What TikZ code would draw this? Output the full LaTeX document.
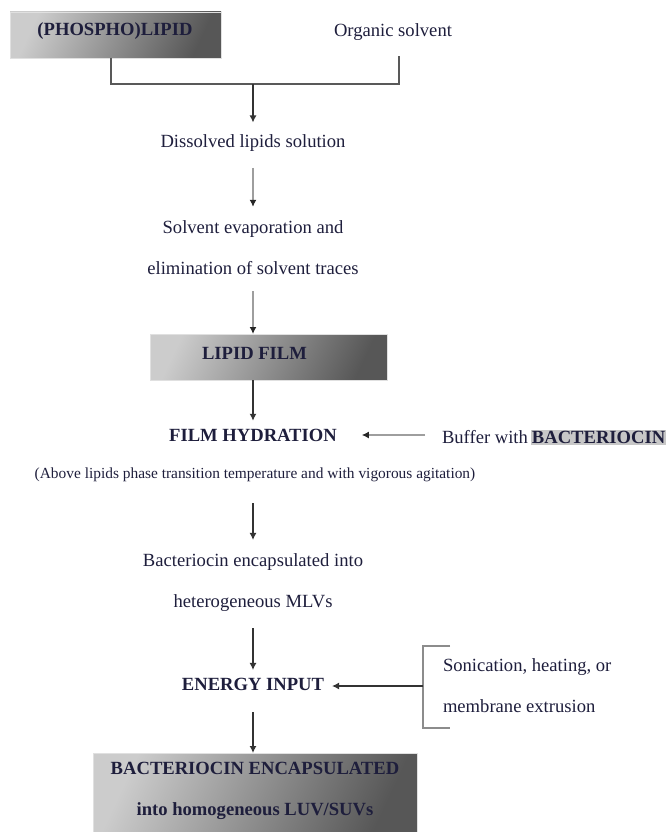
\documentclass[tikz,border=0pt]{standalone}
\usepackage{fontspec}
\setmainfont{Liberation Serif}
\usetikzlibrary{arrows.meta,calc}
\definecolor{txt}{RGB}{30,30,60}
\begin{document}
\begin{tikzpicture}[x=1pt,y=1pt,
  every node/.style={inner sep=0pt, outer sep=0pt, text=txt},
  reg/.style={font=\fontsize{18.6}{41}\selectfont, align=center},
  bld/.style={font=\fontsize{18.6}{41}\selectfont\bfseries, align=center},
  shadebox/.style={shade, left color=black!20, right color=black!66, shading angle=65, draw=black!12, line width=0.6pt},
  arr/.style={-{Latex[length=7pt,width=7pt]}, line width=1.2pt, draw=black!80},
  garr/.style={-{Latex[length=7pt,width=7pt,color=black!85]}, line width=1.5pt, draw=black!38},
  link/.style={line width=1.2pt, draw=black!65},
  glink/.style={line width=1.3pt, draw=black!45},
]
\useasboundingbox (0,0) rectangle (667,-832);

% boxes and texts
\node[shadebox, minimum width=211, minimum height=46] (lipbox) at (115.5,-35) {};
\node[bld] (lip) at (115,-31) {(PHOSPHO)LIPID};
\node[reg] (org) at (393,-32) {Organic solvent};
\coordinate (j) at (253,-84);

\node[reg] (dis) at (253,-143.5) {Dissolved lipids solution};
\node[reg] (evap) at (253,-247.5) {Solvent evaporation and\\elimination of solvent traces};

\node[shadebox, minimum width=237, minimum height=46] (filmbox) at (268.5,-357) {};
\node[bld] (film) at (254.5,-353) {LIPID FILM};

\node[bld] (hyd) at (253,-435) {FILM HYDRATION};
\node[reg, anchor=west] (buf) at (442,-437) {Buffer with};
\node[bld, fill=black!22, anchor=base west, inner xsep=1pt, inner ysep=1pt] (bact) at ([xshift=3pt]buf.base east) {BACTERIOCIN};
\coordinate (bufarr) at ($(buf.west |- hyd.east)+(-17,0)$);

\node[font=\fontsize{15.4}{18}\selectfont] (above) at (255,-475) {(Above lipids phase transition temperature and with vigorous agitation)};

\node[reg] (bac) at (253,-582.5) {Bacteriocin encapsulated into\\heterogeneous MLVs};

\node[bld] (energy) at (253,-684) {ENERGY INPUT};
\node[reg, anchor=west, align=left] (sonic) at (443,-685.5) {Sonication, heating, or\\membrane extrusion};

\node[shadebox, minimum width=324, minimum height=82] (endbox) at (255,-794) {};
\node[bld] (end) at (255,-791) {BACTERIOCIN ENCAPSULATED\\into homogeneous LUV/SUVs};

% connectors
\draw[link] ([xshift=-4.5pt]lipbox.south) |- (j);
\draw[link] ([xshift=6pt,yshift=-15.6pt]org.south) |- (j);
\draw[arr, shorten >=12.6pt] (j) -- (j |- dis.north);
\draw[garr, shorten <=16pt, shorten >=13.6pt] (dis.south) -- (dis.south |- evap.north);
\draw[garr, shorten <=16.6pt] (evap.south) -- (evap.south |- filmbox.north);
\draw[arr, shorten >=8pt] (hyd.north |- filmbox.south) -- (hyd.north);
\draw[garr, shorten >=25pt] (bufarr) -- (hyd.east);
\draw[arr, shorten <=21pt, shorten >=13.6pt] (bac.north |- above.south) -- (bac.north);
\draw[arr, shorten <=16.6pt, shorten >=7.8pt] (bac.south) -- (bac.south |- energy.north);
\draw[arr, shorten <=22pt] (energy.south) -- (energy.south |- endbox.north);

% bracket
\coordinate (br1) at (450,-646);
\coordinate (br2) at (423,-646);
\coordinate (br3) at (423,-728);
\coordinate (br4) at (450,-728);
\coordinate (brm) at (423,-686);
\draw[glink] (br1) -- (br2) -- (br3) -- (br4);
\draw[arr, shorten >=8pt] (brm) -- (brm -| energy.east);
\end{tikzpicture}
\end{document}
